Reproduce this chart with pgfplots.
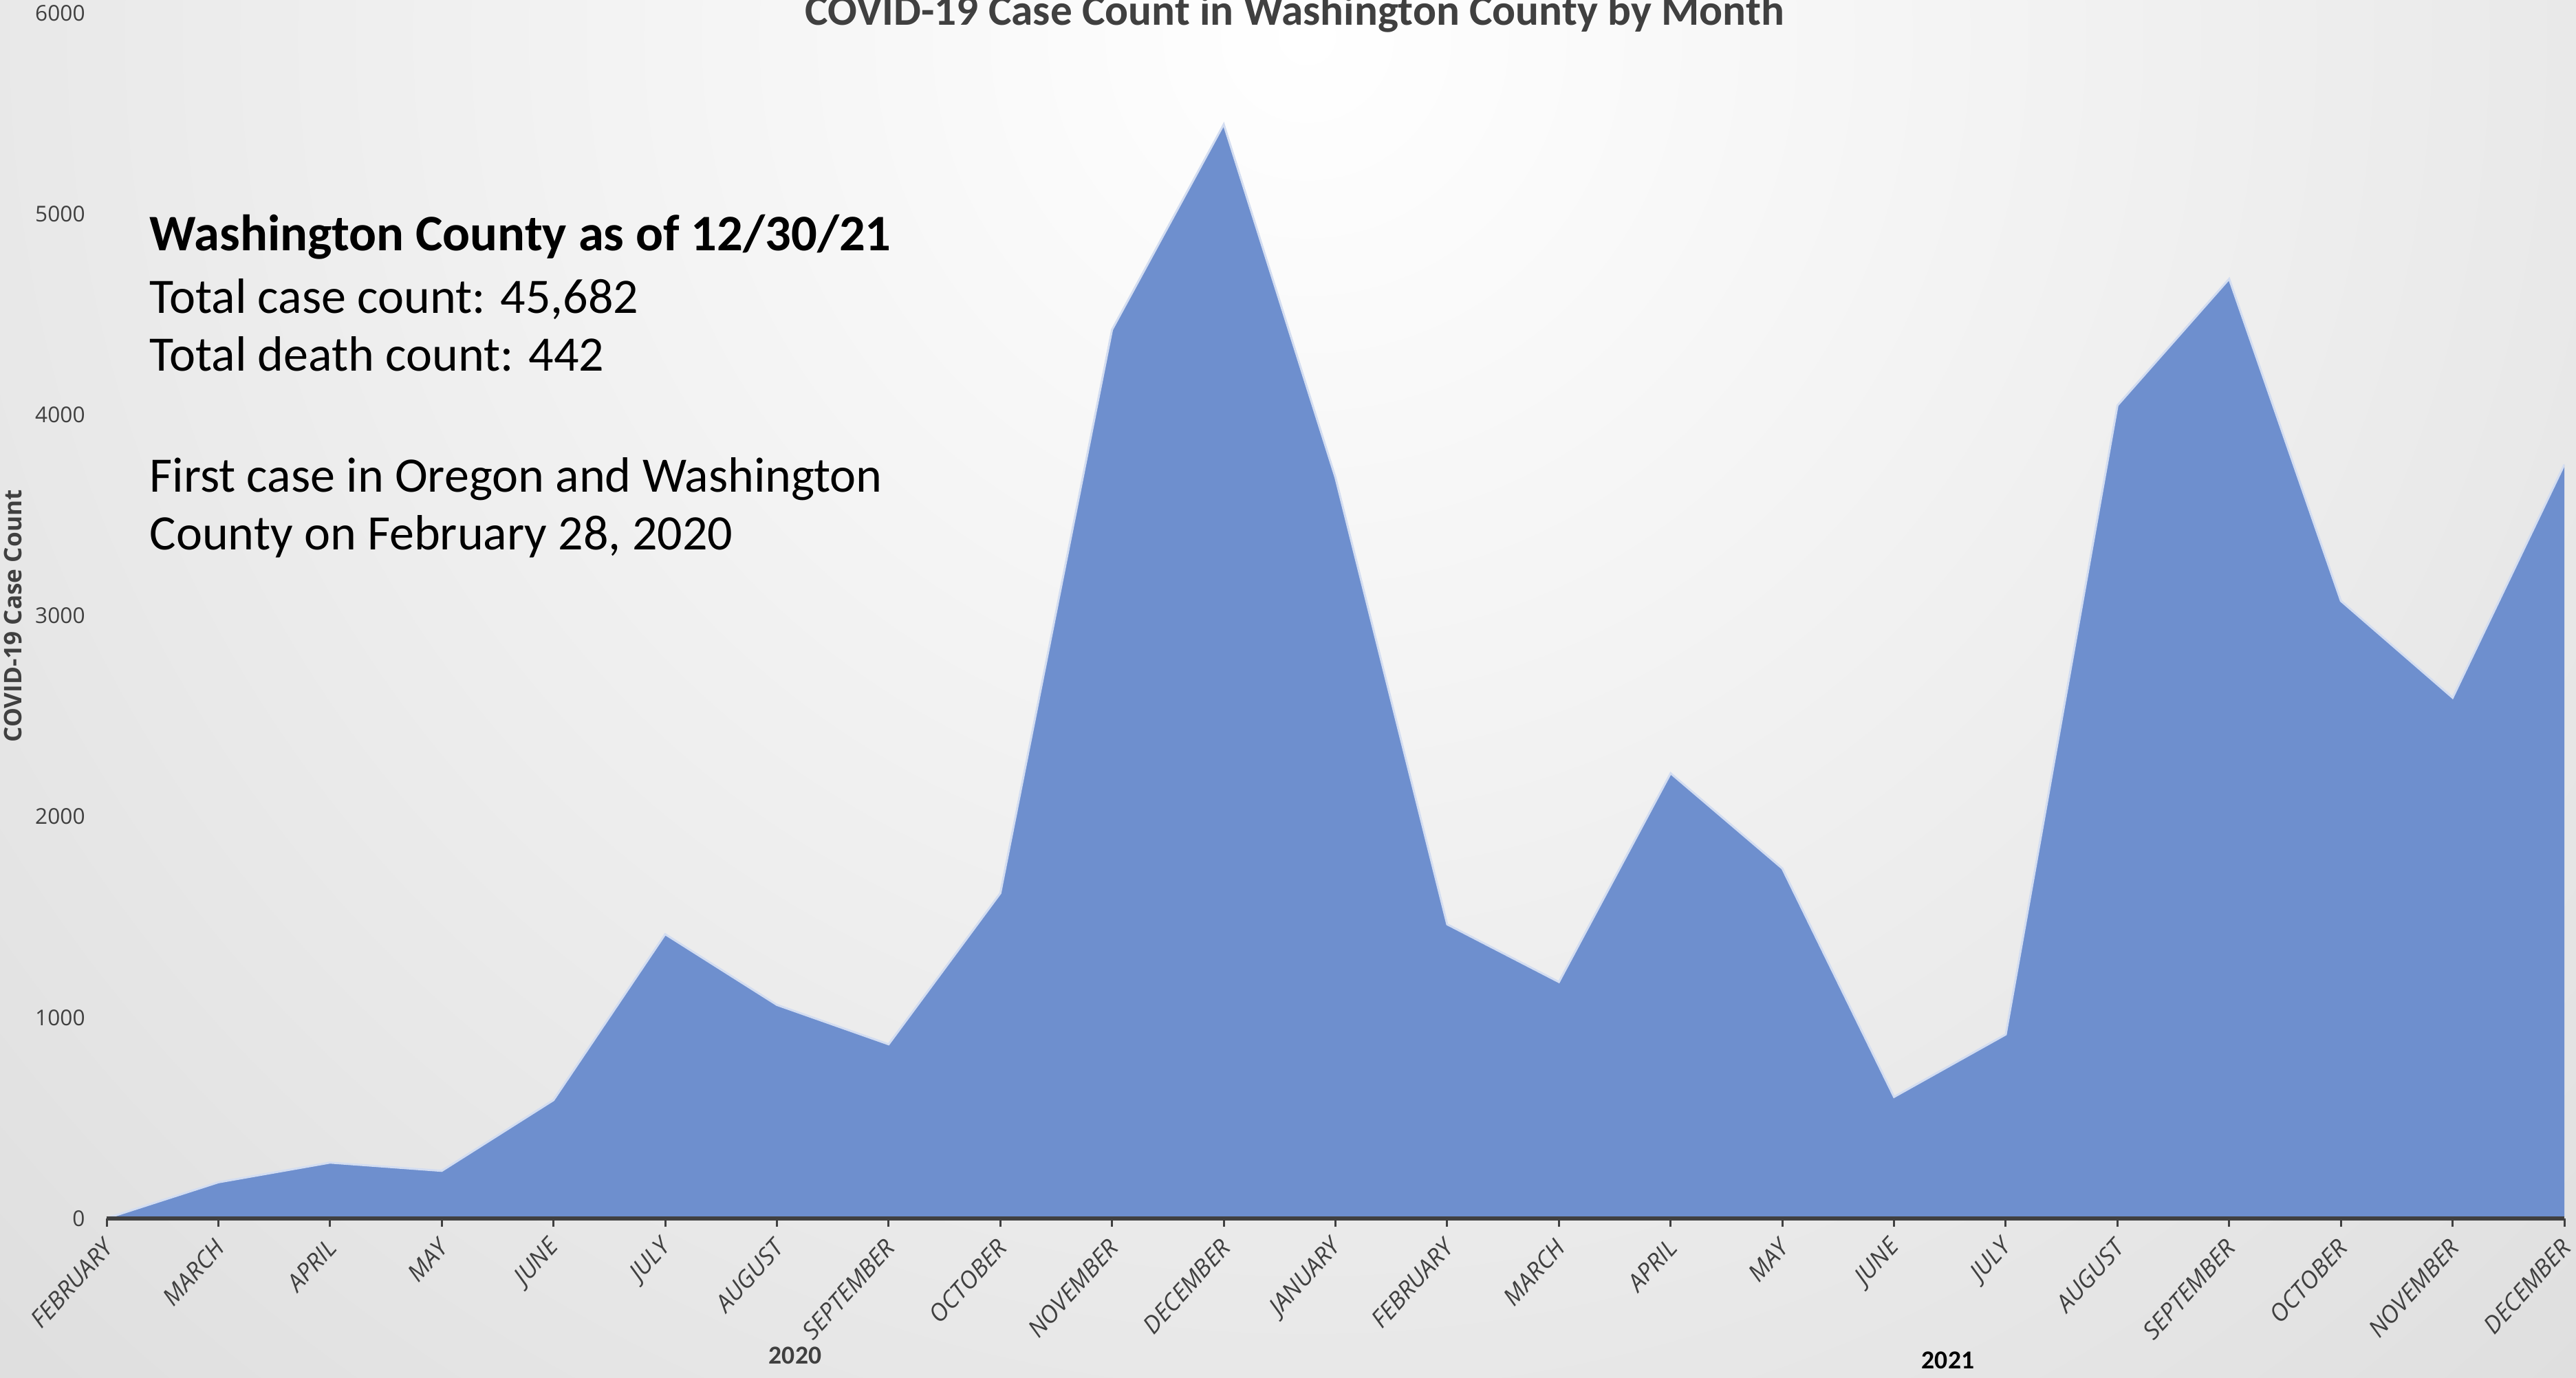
\documentclass[border=0pt]{standalone}
\usepackage{pgfplots}
\pgfplotsset{compat=1.18}
\usepackage{pgfplotstable}
\usepackage{fontspec}
\setmainfont{Carlito}
\newfontfamily\opensans{Open Sans}
\definecolor{areablue}{HTML}{6E8FCE}
\definecolor{edgeblue}{HTML}{D3DDF1}
\definecolor{txtgray}{HTML}{404040}
\definecolor{bgout}{HTML}{BEBEBE}

\pgfplotstableread{
x y
0 1
1 180
2 278
3 237
4 589
5 1415
6 1063
7 867
8 1619
9 4424
10 5446
11 3688
12 1464
13 1177
14 2216
15 1742
16 605
17 916
18 4047
19 4677
20 3074
21 2592
22 3753
}\cases

\begin{document}
\begin{tikzpicture}
\useasboundingbox (0,0) rectangle (374.5mm,200.3mm);
\clip (0,0) rectangle (374.5mm,200.3mm);
\fill[bgout] (0,0) rectangle (374.5mm,200.3mm);
\shade[inner color=white, outer color=bgout] (190mm,195mm) circle (545mm);

\begin{axis}[
  at={(15.5mm,23.1mm)}, anchor=south west,
  scale only axis, width=357.3mm, height=175.3mm,
  xmin=0, xmax=22, ymin=0, ymax=6000,
  axis x line*=bottom, axis y line*=left,
  x axis line style={-, line width=0.6mm, draw=txtgray},
  y axis line style={draw=none},
  xtick={0,...,22},
  xticklabels={FEBRUARY,MARCH,APRIL,MAY,JUNE,JULY,AUGUST,SEPTEMBER,OCTOBER,NOVEMBER,DECEMBER,JANUARY,FEBRUARY,MARCH,APRIL,MAY,JUNE,JULY,AUGUST,SEPTEMBER,OCTOBER,NOVEMBER,DECEMBER},
  ytick={0,1000,...,6000},
  tick align=outside,
  major tick length=1.2mm,
  xtick style={line width=0.3mm, draw=txtgray},
  ytick style={draw=none},
  yticklabel style={font=\opensans\fontsize{9}{10}\selectfont, text=txtgray, xshift=-0.7mm},
  xticklabel style={font=\opensans\itshape\fontsize{10}{12}\selectfont, text=txtgray, anchor=east, inner sep=1pt, xshift=0.5mm, yshift=-2.1mm, rotate=48},
  /pgf/number format/assume math mode=true,
  /pgf/number format/1000 sep={},
  axis on top,
]
\addplot[draw=none, fill=areablue] table[x=x,y=y]{\cases} \closedcycle;
\addplot[draw=edgeblue, line width=0.3mm] table[x=x,y=y]{\cases};
\end{axis}

\node[anchor=base, font=\bfseries\fontsize{18}{20}\selectfont, text=txtgray] at (188.2mm,196.6mm) {COVID-19 Case Count in Washington County by Month};
\node[anchor=base, rotate=90, font=\opensans\bfseries\fontsize{10}{12}\selectfont, text=txtgray] at (3.1mm,110.7mm) {COVID-19 Case Count};
\node[anchor=base, font=\bfseries\fontsize{10.7}{12}\selectfont, text=txtgray] at (115.6mm,2.0mm) {2020};
\node[anchor=base, font=\bfseries\fontsize{10.7}{12}\selectfont, text=black] at (283.2mm,1.3mm) {2021};

\node[anchor=base west, inner sep=0pt, font=\bfseries\fontsize{21.2}{24}\selectfont] at (21.7mm,163.8mm) {Washington County as of 12/30/21};
\node[anchor=base west, inner sep=0pt, font=\fontsize{20.5}{24}\selectfont] at (21.7mm,154.7mm) {Total case count: 45,682};
\node[anchor=base west, inner sep=0pt, font=\fontsize{20.5}{24}\selectfont] at (21.7mm,146.3mm) {Total death count: 442};
\node[anchor=base west, inner sep=0pt, font=\fontsize{20.5}{24}\selectfont] at (21.7mm,128.7mm) {First case in Oregon and Washington};
\node[anchor=base west, inner sep=0pt, font=\fontsize{20.5}{24}\selectfont] at (21.7mm,120.3mm) {County on February 28, 2020};
\end{tikzpicture}
\end{document}
